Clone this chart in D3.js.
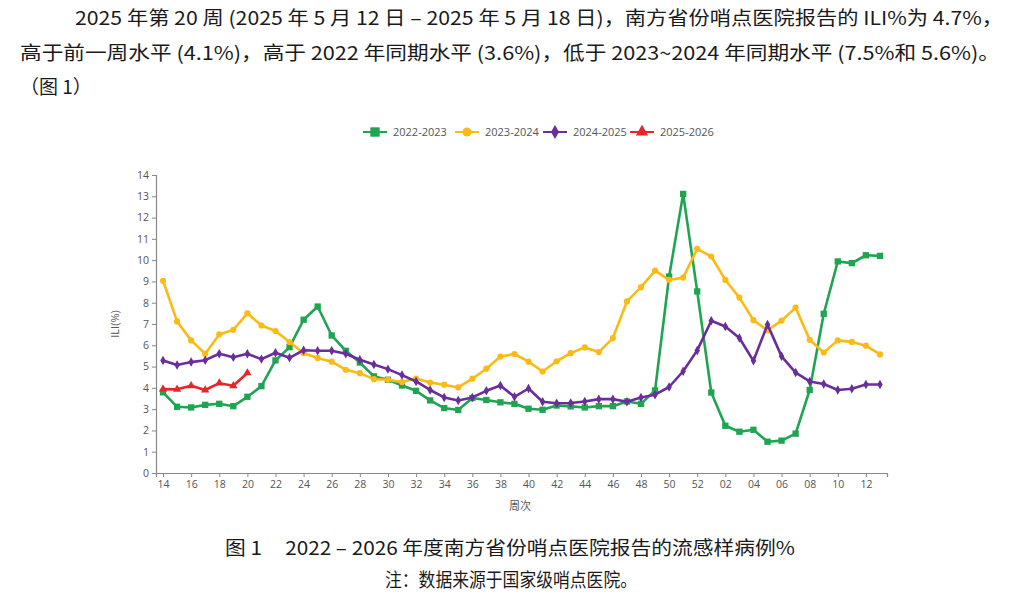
<!DOCTYPE html>
<html>
<head>
<meta charset="utf-8">
<script src="https://cdn.jsdelivr.net/npm/d3@7"></script>
<style>
  body { margin: 0; background: #fff; }
  svg { display: block; }
</style>
</head>
<body>
<div id="chart"></div>
<script>
// week labels (14..52 then 01..13)
var weeks = [];
for (var w = 14; w <= 52; w++) weeks.push(String(w));
for (var w2 = 1; w2 <= 13; w2++) weeks.push(w2 < 10 ? "0" + w2 : String(w2));

var seriesNames = ["2022-2023", "2023-2024", "2024-2025", "2025-2026"];

var s2022 = [3.79, 3.11, 3.08, 3.2, 3.25, 3.14, 3.58, 4.08, 5.29, 5.91, 7.2, 7.82, 6.46, 5.74, 5.19, 4.54, 4.38, 4.11, 3.86, 3.41,
  3.05, 2.96, 3.52, 3.43, 3.32, 3.25, 3.02, 2.97, 3.17, 3.13, 3.08, 3.14, 3.14, 3.36, 3.25, 3.88, 9.23, 13.11, 8.53,
  3.78, 2.22, 1.94, 2.03, 1.47, 1.52, 1.85, 3.9, 7.48, 9.94, 9.86, 10.23, 10.2];
var s2023 = [9.03, 7.12, 6.23, 5.6, 6.51, 6.73, 7.5, 6.93, 6.67, 6.15, 5.63, 5.4, 5.23, 4.85, 4.69, 4.41, 4.38, 4.27, 4.44, 4.25,
  4.15, 4.02, 4.43, 4.9, 5.47, 5.59, 5.23, 4.77, 5.25, 5.63, 5.9, 5.68, 6.34, 8.06, 8.73, 9.51, 9.07, 9.18, 10.53,
  10.17, 9.07, 8.24, 7.18, 6.7, 7.16, 7.77, 6.26, 5.66, 6.23, 6.16, 5.98, 5.57];
var s2024 = [5.29, 5.07, 5.21, 5.3, 5.6, 5.44, 5.6, 5.35, 5.65, 5.41, 5.77, 5.74, 5.74, 5.6, 5.32, 5.1, 4.88, 4.6, 4.3, 3.9,
  3.55, 3.41, 3.55, 3.86, 4.11, 3.58, 3.97, 3.35, 3.28, 3.29, 3.36, 3.47, 3.47, 3.35, 3.55, 3.68, 4.04, 4.78, 5.76,
  7.15, 6.88, 6.34, 5.27, 6.98, 5.48, 4.72, 4.3, 4.18, 3.9, 3.96, 4.16, 4.16];
var s2025 = [3.94, 3.93, 4.1, 3.9, 4.22, 4.1, 4.7];

var yTicks = d3.range(0, 15);
var xTickLabels = weeks.filter(function(d, i) { return i % 2 === 0; });

var colors = ["#1fa552", "#fbba14", "#6a2d9b", "#e6262b"];
var symbols = [d3.symbolSquare, d3.symbolCircle, d3.symbolDiamond, d3.symbolTriangle];
var symSizes = [40, 30, 26, 30];

var W = 1016, H = 602;
var svg = d3.select("#chart").append("svg").attr("width", W).attr("height", H);

var cjk = "'Noto Sans CJK SC', 'Noto Sans', sans-serif";

// paragraph text
var para = [
  { t: "2025 年第 20 周 (2025 年 5 月 12 日 – 2025 年 5 月 18 日)，南方省份哨点医院报告的 ILI%为 4.7%，", x: 75, y: 25, len: 928 },
  { t: "高于前一周水平 (4.1%)，高于 2022 年同期水平 (3.6%)，低于 2023~2024 年同期水平 (7.5%和 5.6%)。", x: 20, y: 60, len: 980 }
];
svg.selectAll("text.para").data(para).enter().append("text")
  .attr("class", "para")
  .attr("x", function(d) { return d.x; })
  .attr("y", function(d) { return d.y; })
  .attr("textLength", function(d) { return d.len; })
  .attr("lengthAdjust", "spacingAndGlyphs")
  .style("font-family", cjk)
  .style("font-size", "19px")
  .style("fill", "#1a1a1a")
  .text(function(d) { return d.t; });
svg.append("text")
  .attr("x", 20).attr("y", 94)
  .style("font-family", cjk)
  .style("font-size", "19px")
  .style("fill", "#1a1a1a")
  .text("（图 1）");

// scales
var x = d3.scalePoint().domain(weeks).range([156, 887]).padding(0.5);
var y = d3.scaleLinear().domain([0, 14]).range([473, 175]);

var g = svg.append("g");

var xAxis = g.append("g")
  .attr("transform", "translate(0," + y(0) + ")")
  .call(d3.axisBottom(x).tickValues(xTickLabels).tickSizeOuter(0).tickSize(4).tickPadding(4));
var yAxis = g.append("g")
  .attr("transform", "translate(156,0)")
  .call(d3.axisLeft(y).tickValues(yTicks).tickSizeOuter(0).tickSize(4).tickPadding(3));

[xAxis, yAxis].forEach(function(a) {
  a.select(".domain").attr("stroke", "#888").attr("stroke-width", 1.2);
  a.selectAll(".tick line").attr("stroke", "#888");
  a.selectAll(".tick text").style("font-family", "'Open Sans', sans-serif").style("font-size", "10.5px").attr("fill", "#555");
});

g.append("text")
  .attr("transform", "translate(119," + y(7) + ") rotate(-90)")
  .attr("text-anchor", "middle")
  .style("font-family", "'Open Sans', sans-serif")
  .style("font-size", "11px")
  .attr("fill", "#555")
  .text("ILI(%)");

g.append("text")
  .attr("x", 520).attr("y", 510)
  .attr("text-anchor", "middle")
  .style("font-family", cjk)
  .style("font-size", "11px")
  .attr("fill", "#555")
  .text("周次");

// series
var allSeries = [s2022, s2023, s2024, s2025];
var line = d3.line()
  .x(function(d, i) { return x(weeks[i]); })
  .y(function(d) { return y(d); });

allSeries.forEach(function(vals, k) {
  var sg = g.append("g");
  sg.append("path")
    .attr("d", line(vals))
    .attr("fill", "none")
    .attr("stroke", colors[k])
    .attr("stroke-width", 2.6)
    .attr("stroke-linejoin", "round");
  sg.selectAll("path.pt").data(vals).enter().append("path")
    .attr("class", "pt")
    .attr("transform", function(d, i) { return "translate(" + x(weeks[i]) + "," + y(d) + ")"; })
    .attr("d", d3.symbol().type(symbols[k]).size(symSizes[k]))
    .attr("fill", colors[k]);
});

// legend
var legendX = [363, 455, 543, 630];
var lg = svg.append("g").attr("transform", "translate(0,132)");
seriesNames.forEach(function(name, k) {
  var it = lg.append("g").attr("transform", "translate(" + legendX[k] + ",0)");
  it.append("line").attr("x1", 0).attr("x2", 24).attr("y1", 0).attr("y2", 0)
    .attr("stroke", colors[k]).attr("stroke-width", 2);
  it.append("path").attr("transform", "translate(12,0)")
    .attr("d", d3.symbol().type(symbols[k]).size(symSizes[k] * 2.2))
    .attr("fill", colors[k]);
  it.append("text").attr("x", 30).attr("y", 4)
    .style("font-family", "'Open Sans', sans-serif")
    .style("font-size", "11px")
    .attr("fill", "#555")
    .text(name);
});

// caption
svg.append("text")
  .attr("x", 225).attr("y", 555)
  .attr("textLength", 570).attr("lengthAdjust", "spacingAndGlyphs")
  .style("font-family", cjk).style("font-size", "19px").attr("fill", "#1a1a1a")
  .text("图 1\u00a0\u00a0\u00a0\u00a0\u00a02022 – 2026 年度南方省份哨点医院报告的流感样病例%");
svg.append("text")
  .attr("x", 385).attr("y", 587)
  .attr("textLength", 252).attr("lengthAdjust", "spacingAndGlyphs")
  .style("font-family", cjk).style("font-size", "19px").attr("fill", "#1a1a1a")
  .text("注：数据来源于国家级哨点医院。");
</script>
</body>
</html>
